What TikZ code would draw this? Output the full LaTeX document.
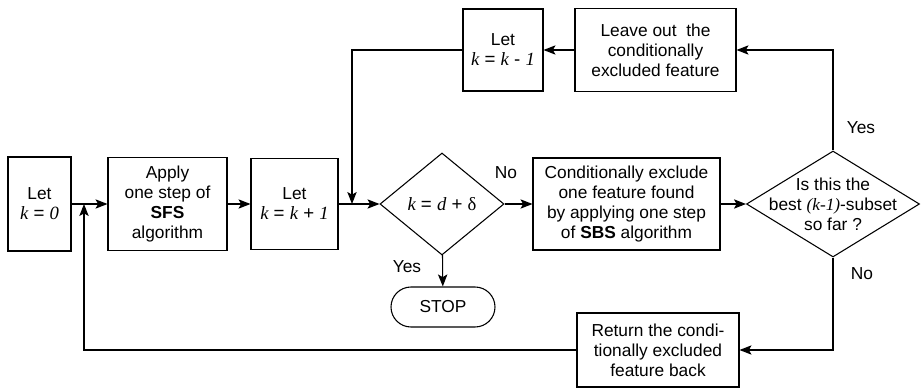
\documentclass[tikz,border=0pt]{standalone}
\usepackage{fontspec}
\setmainfont{Liberation Sans}
\newfontfamily\serifvar{Liberation Serif}
\newcommand{\varit}[1]{{\serifvar\itshape #1}}
\usepackage{tikz}
\usetikzlibrary{
  positioning, shapes.geometric, shapes.misc, arrows.meta, calc
}
\tikzset{
	stepbox/.style={draw, line width=0.8pt, rectangle, inner sep=0pt, align=center,
			font=\fontsize{13}{15}\selectfont}
}
\tikzset{
	testnode/.style={draw, line width=0.8pt, diamond, inner sep=0pt}
}
\tikzset{
	stopnode/.style={draw, line width=0.8pt, rounded rectangle, inner sep=0pt,
			font=\fontsize{13}{15}\selectfont}
}
\tikzset{
	flowtext/.style={align=center, inner sep=0pt, font=\fontsize{13}{15}\selectfont}
}
\tikzset{
	flowarrow/.style={line width=0.8pt, -{Stealth[length=9pt, width=7pt, inset=2pt]}}
}

\begin{document}
\begin{tikzpicture}[x=0.75pt, y=-0.75pt]

			\useasboundingbox (0,0) rectangle (921,389);

			\begin{scope}
				\node[stepbox, minimum width=47.25pt, minimum height=70.5pt] (letzero) at (39.5,204)
				{Let\\{\fontsize{14}{15}\selectfont\varit{k} = \varit{0}}};
				\node[stepbox, minimum width=89.25pt, minimum height=69.75pt] (sfsstep) at (167.5,204)
				{Apply\\one step of\\\textbf{SFS}\\algorithm};
				\node[stepbox, minimum width=65.25pt, minimum height=68.25pt] (letinc) at (294.5,204)
				{Let\\{\fontsize{14}{15}\selectfont\varit{k} = \varit{k} + \varit{1}}};
				\node[testnode, minimum width=93pt, minimum height=76.5pt] (sizetest) at (442,204) {};
				\node[flowtext] (sizetext) at (sizetest)
				{\fontsize{14}{15}\selectfont\varit{k} = \varit{d} + {\serifvar δ}};
				\node[stopnode, minimum width=78pt, minimum height=30pt] (stop) at (443,307) {STOP};
				\node[stepbox, minimum width=140.25pt, minimum height=69pt] (sbsstep) at (626.5,204)
				{Conditionally exclude\\one feature found\\by applying one step\\of \textbf{SBS} algorithm};
				\node[testnode, minimum width=129.75pt, minimum height=79.5pt] (besttest) at (833,204) {};
				\node[flowtext] (besttext) at (besttest) {Is this the\\best \varit{(k-1)}-subset\\so far ?};
				\node[stepbox, minimum width=120.75pt, minimum height=62.25pt] (leaveout) at (655.5,50)
				{Leave out\ \ the\\conditionally\\excluded feature};
				\node[stepbox, minimum width=60pt, minimum height=61.5pt] (letdec) at (503,50)
				{Let\\{\fontsize{14}{15}\selectfont\varit{k} = \varit{k} - \varit{1}}};
				\node[stepbox, minimum width=121.5pt, minimum height=55.5pt] (putback) at (658,350)
				{Return the condi-\\tionally excluded\\feature back};
			\end{scope}

			\begin{scope}
				\coordinate (jointop) at (352,204);
				\coordinate (joinbot) at (84,204);

				\draw[flowarrow] (letzero) -- (sfsstep);
				\draw[flowarrow] (sfsstep) -- (letinc);
				\draw[flowarrow] (letinc) -- (sizetest);
				\draw[flowarrow] (sizetest) -- (sbsstep);
				\draw[flowarrow] (sizetest) -- (stop);
				\draw[flowarrow] (sbsstep) -- (besttest);
				\draw[flowarrow] (besttest.north) |- (leaveout.east);
				\draw[flowarrow] (besttest.south) |- (putback.east);
				\draw[flowarrow] (leaveout) -- (letdec);
				\draw[flowarrow] (letdec.west) -| (jointop);
				\draw[flowarrow] (putback.west) -| (joinbot);
			\end{scope}

			\begin{scope}
				\node[flowtext] (nolabel) at (506,173) {No};
				\node[flowtext] (yeslabel) at (407,267) {Yes};
				\node[flowtext] (bestyes) at (861,128) {Yes};
				\node[flowtext] (bestno) at (862,274) {No};
			\end{scope}

		\end{tikzpicture}
\end{document}
